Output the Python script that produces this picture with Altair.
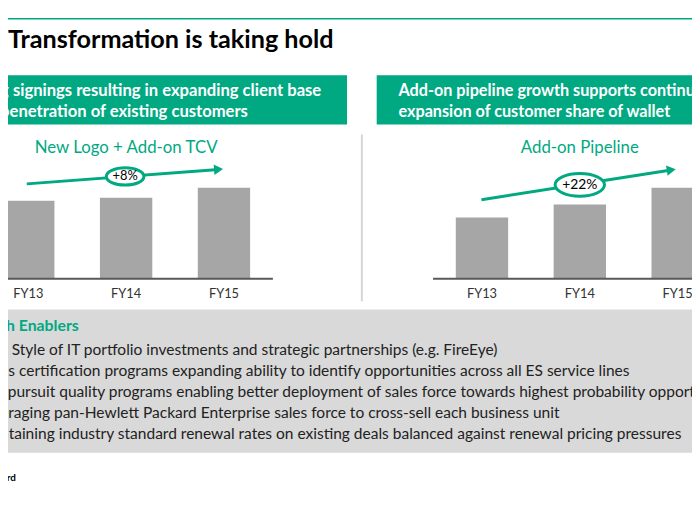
import altair as alt
import pandas as pd

GREEN = "#01a982"
FONT = "Lato"

# ---- data ----
years = ["FY13", "FY14", "FY15"]
panels = ["left", "right"]
tcv_values = [79, 82, 92]          # New Logo + Add-on TCV (relative bar heights)
pipeline_values = [62, 75, 92]     # Add-on Pipeline (relative bar heights)
panel_titles = ["New Logo + Add-on TCV", "Add-on Pipeline"]
growth_labels = ["+8%", "+22%"]
title_text = "Transformation is taking hold"
left_box_lines = ["g signings resulting in expanding client base",
                  "penetration of existing customers"]
right_box_lines = ["Add-on pipeline growth supports continued",
                   "expansion of customer share of wallet"]
enablers_title = "th Enablers"
enablers = [
    "v Style of IT portfolio investments and strategic partnerships (e.g. FireEye)",
    "es certification programs expanding ability to identify opportunities across all ES service lines",
    "l pursuit quality programs enabling better deployment of sales force towards highest probability opportunities",
    "eraging pan-Hewlett Packard Enterprise sales force to cross-sell each business unit",
    "ntaining industry standard renewal rates on existing deals balanced against renewal pricing pressures",
]
footer_text = "Hewlett Packard"

bars_df = pd.DataFrame({
    "panel": [panels[0]] * 3 + [panels[1]] * 3,
    "year": years * 2,
    "value": tcv_values + pipeline_values,
})
panels_df = pd.DataFrame({"panel": panels, "title": panel_titles})
one = pd.DataFrame({"k": [0]})

x_panel = alt.X("panel:N", axis=None,
                scale=alt.Scale(domain=panels, range=[-29, 727],
                                paddingInner=0.353, paddingOuter=0))
x_off = alt.XOffset("year:N", scale=alt.Scale(domain=years, paddingInner=0.465,
                                               paddingOuter=0.2325))
y_val = alt.Y("value:Q", axis=None, scale=alt.Scale(domain=[0, 100], range=[271, 171]))


def text_layer(text, x, y, size, color="#222222", weight="normal", align="left",
               baseline="middle", line_height=None):
    kw = dict(text=text, fontSize=size, color=color, fontWeight=weight, align=align,
              baseline=baseline, font=FONT)
    if line_height is not None:
        kw["lineHeight"] = line_height
    return alt.Chart(one).mark_text(**kw).encode(x=alt.value(x), y=alt.value(y))


def rect_layer(x, x2, y, y2, color):
    return alt.Chart(one).mark_rect(color=color, opacity=1).encode(
        x=alt.value(x), x2=alt.value(x2), y=alt.value(y), y2=alt.value(y2))


def rule_layer(x, y, x2, y2, color, width):
    return alt.Chart(one).mark_rule(color=color, strokeWidth=width).encode(
        x=alt.value(x), y=alt.value(y), x2=alt.value(x2), y2=alt.value(y2))


layers = []
# top rule + title
layers.append(rule_layer(-8, 8, 700, 8, GREEN, 1.5))
layers.append(text_layer(title_text, 0, 38, 25.5, "#000000", "bold", baseline="alphabetic"))
# green header boxes
layers.append(rect_layer(-8, 343, 65, 115, GREEN))
layers.append(rect_layer(373, 700, 65, 115, GREEN))
layers.append(text_layer(left_box_lines, -8, 86, 16.8, "#ffffff", "bold",
                         baseline="alphabetic", line_height=21))
layers.append(text_layer(right_box_lines, 395, 86, 16.4, "#ffffff", "bold",
                         baseline="alphabetic", line_height=21))
# divider
layers.append(rule_layer(358, 125, 358, 294, "#d6d6d6", 2))

# bars
layers.append(alt.Chart(bars_df).mark_bar(color="#a6a6a6").encode(
    x=x_panel, xOffset=x_off, y=y_val))
# baselines
layers.append(alt.Chart(panels_df).mark_bar(color="#595959").encode(
    x=x_panel, y=alt.value(270), y2=alt.value(272)))
# year labels
layers.append(alt.Chart(bars_df).mark_text(fontSize=13, color="#333333", font=FONT).encode(
    x=x_panel, xOffset=x_off, y=alt.value(286), text="year:N"))
# panel titles
layers.append(alt.Chart(panels_df).mark_text(fontSize=17, color=GREEN, font=FONT).encode(
    x=x_panel, y=alt.value(139), text="title:N"))

# growth arrows
layers.append(rule_layer(19, 175, 213, 160.4, GREEN, 3))
layers.append(rule_layer(479, 191, 671, 161, GREEN, 3))
layers.append(alt.Chart(one).mark_point(shape="triangle-right", filled=True, size=110,
                                        angle=355.7, color=GREEN, opacity=1).encode(
    x=alt.value(213), y=alt.value(160.4)))
layers.append(alt.Chart(one).mark_point(shape="triangle-right", filled=True, size=110,
                                        angle=351.1, color=GREEN, opacity=1).encode(
    x=alt.value(671), y=alt.value(161)))
oval = "M-1,0A1,0.46,0,1,1,1,0A1,0.46,0,1,1,-1,0Z"
layers.append(alt.Chart(one).mark_point(shape=oval, filled=True, fill="#ffffff",
                                        stroke=GREEN, strokeWidth=3, size=1444,
                                        opacity=1).encode(
    x=alt.value(118.5), y=alt.value(167.5)))
layers.append(alt.Chart(one).mark_point(shape=oval, filled=True, fill="#ffffff",
                                        stroke=GREEN, strokeWidth=3, size=2500,
                                        opacity=1).encode(
    x=alt.value(578.5), y=alt.value(176)))
layers.append(text_layer(growth_labels[0], 118.5, 167.5, 13, "#000000", align="center"))
layers.append(text_layer(growth_labels[1], 578.5, 176, 14, "#000000", align="center"))

# grey enablers box
layers.append(rect_layer(-8, 700, 302, 447, "#d9d9d9"))
layers.append(text_layer(enablers_title, -8, 319, 16, GREEN, "bold"))
layers.append(text_layer(enablers, -8, 348, 15.7, "#222222", baseline="alphabetic",
                         line_height=21.4))
# footer
layers.append(text_layer(footer_text, 8, 473, 10, "#000000", "bold", align="right"))

chart = alt.layer(*layers).properties(
    width=692, height=500,
    autosize=alt.AutoSizeParams(type="none"),
    padding=0,
    background="#ffffff",
).configure_view(stroke=None)

chart.save("out.html", embed_options={"renderer": "svg", "actions": False})
